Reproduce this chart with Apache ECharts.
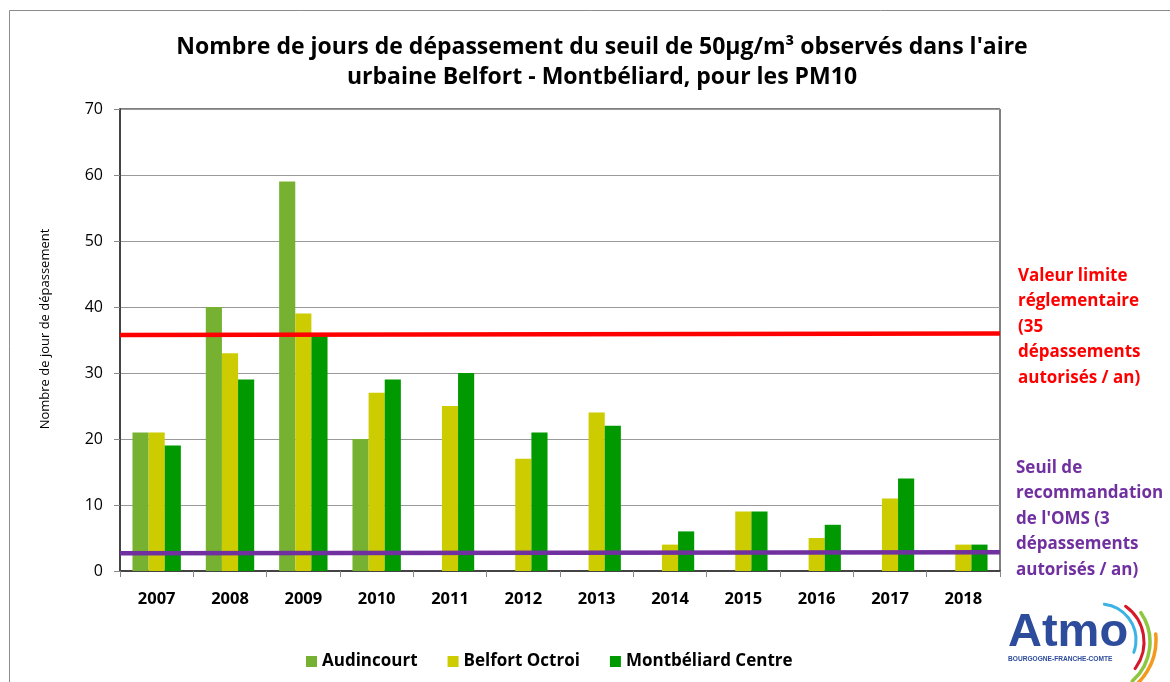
<!DOCTYPE html>
<html>
<head>
<meta charset="utf-8">
<script src="https://cdn.jsdelivr.net/npm/echarts@6/dist/echarts.min.js"></script>
<style>
  html, body { margin: 0; padding: 0; background: #fff; }
  #chart { width: 1170px; height: 682px; }
</style>
</head>
<body>
<div id="chart"></div>
<script>
// Years on the category axis
const years = ['2007', '2008', '2009', '2010', '2011', '2012', '2013', '2014', '2015', '2016', '2017', '2018'];

// Days above 50 µg/m3 (PM10) per station
const audincourt = [21, 40, 59, 20, null, null, null, null, null, null, null, null];
const belfortOctroi = [21, 33, 39, 27, 25, 17, 24, 4, 9, 5, 11, 4];
const montbeliardCentre = [19, 29, 36, 29, 30, 21, 22, 6, 9, 7, 14, 4];

// Reference thresholds, drawn across the full plot width (start, end)
const limitLine = [35.75, 36.0];
const omsLine = [2.7, 2.85];

const yTicks = { min: 0, max: 70, interval: 10 };

const FONT = '"Open Sans", Lato, sans-serif';

const chart = echarts.init(document.getElementById('chart'), null, { renderer: 'canvas' });

const spanLine = (v) => [[0, v[0]], [1, v[1]]];

chart.setOption({
  animation: false,
  backgroundColor: '#fff',
  title: {
    text: "Nombre de jours de dépassement du seuil de 50µg/m³ observés dans l'aire\nurbaine Belfort - Montbéliard, pour les PM10",
    left: 597,
    textAlign: 'center',
    top: 27,
    textStyle: { fontFamily: FONT, fontWeight: 'bold', fontSize: 23, color: '#000', lineHeight: 30 }
  },
  grid: {
    left: 120, right: 170, top: 109, bottom: 111,
    show: true, borderColor: '#000', borderWidth: 1, backgroundColor: 'transparent'
  },
  legend: {
    left: 301, top: 648,
    itemWidth: 11, itemHeight: 11, itemGap: 30,
    icon: 'rect',
    textStyle: { fontFamily: FONT, fontWeight: 'bold', fontSize: 17, color: '#000' },
    data: ['Audincourt', 'Belfort Octroi', 'Montbéliard Centre']
  },
  xAxis: [
    {
      type: 'category',
      data: years,
      axisLine: { lineStyle: { color: '#444', width: 2 } },
      axisTick: { show: true, interval: 0, alignWithLabel: false, length: 6, lineStyle: { color: '#888' } },
      axisLabel: { fontFamily: FONT, fontWeight: 'bold', fontSize: 16.5, color: '#000', margin: 20 }
    },
    {
      type: 'value', min: 0, max: 1, show: false, position: 'bottom'
    }
  ],
  yAxis: {
    type: 'value',
    min: yTicks.min, max: yTicks.max, interval: yTicks.interval,
    axisLine: { show: true, lineStyle: { color: '#444', width: 2 } },
    axisTick: { show: true, length: 6, lineStyle: { color: '#888' } },
    axisLabel: { fontFamily: FONT, fontSize: 16, color: '#000', margin: 17 },
    splitLine: { lineStyle: { color: '#999', width: 1 } }
  },
  series: [
    {
      name: 'Audincourt', type: 'bar', data: audincourt,
      barGap: 0, barCategoryGap: '34%',
      itemStyle: { color: '#76B131' }
    },
    {
      name: 'Belfort Octroi', type: 'bar', data: belfortOctroi,
      barGap: 0, barCategoryGap: '34%',
      itemStyle: { color: '#CCCC00' }
    },
    {
      name: 'Montbéliard Centre', type: 'bar', data: montbeliardCentre,
      barGap: 0, barCategoryGap: '34%',
      itemStyle: { color: '#009900' }
    },
    {
      name: 'limite', type: 'line', xAxisIndex: 1, data: spanLine(limitLine),
      symbol: 'none', lineStyle: { color: '#FF0000', width: 4.5 }, z: 5
    },
    {
      name: 'oms', type: 'line', xAxisIndex: 1, data: spanLine(omsLine),
      symbol: 'none', lineStyle: { color: '#7030A0', width: 4.5 }, z: 5
    }
  ],
  graphic: [
    {
      type: 'rect', silent: true,
      shape: { x: 9.5, y: 10.5, width: 1200, height: 700 },
      style: { fill: 'none', stroke: '#8c8c8c', lineWidth: 1 }
    },
    // Y axis title
    {
      type: 'text', x: 45, y: 329, rotation: Math.PI / 2,
      style: {
        text: 'Nombre de jour de dépassement',
        fill: '#000', font: '13px ' + FONT, align: 'center', verticalAlign: 'middle'
      }
    },
    {
      type: 'text', left: 1018, top: 263,
      style: {
        text: 'Valeur limite\nréglementaire\n(35\ndépassements\nautorisés / an)',
        fill: '#FF0000', font: 'bold 17px ' + FONT, lineHeight: 25.5
      }
    },
    {
      type: 'text', left: 1016, top: 455,
      style: {
        text: "Seuil de\nrecommandation\nde l'OMS (3\ndépassements\nautorisés / an)",
        fill: '#7030A0', font: 'bold 17px ' + FONT, lineHeight: 25.5
      }
    },
    // Atmo Bourgogne-Franche-Comté logo
    {
      type: 'text', left: 1008, top: 610,
      style: { text: 'Atmo', fill: '#2E4C9C', font: 'bold 47px "Liberation Sans", Arial, sans-serif' }
    },
    {
      type: 'text', left: 1008, top: 656,
      style: { text: 'BOURGOGNE-FRANCHE-COMTE', fill: '#2E4C9C', font: 'bold 6.6px "Liberation Sans", Arial, sans-serif' }
    },
    {
      type: 'arc', silent: true,
      shape: { cx: 1100, cy: 640, r: 36, startAngle: -1.45, endAngle: 0.35 },
      style: { stroke: '#3BB4E5', lineWidth: 3, fill: 'none', lineCap: 'round' }
    },
    {
      type: 'arc', silent: true,
      shape: { cx: 1100, cy: 642, r: 44, startAngle: -0.95, endAngle: 0.65 },
      style: { stroke: '#D7182A', lineWidth: 3, fill: 'none', lineCap: 'round' }
    },
    {
      type: 'arc', silent: true,
      shape: { cx: 1098, cy: 642, r: 52, startAngle: -0.6, endAngle: 0.85 },
      style: { stroke: '#8DC63F', lineWidth: 3.5, fill: 'none', lineCap: 'round' }
    },
    {
      type: 'arc', silent: true,
      shape: { cx: 1096, cy: 640, r: 60, startAngle: -0.1, endAngle: 1.2 },
      style: { stroke: '#F39A1E', lineWidth: 3.5, fill: 'none', lineCap: 'round' }
    }
  ]
});
</script>
</body>
</html>
